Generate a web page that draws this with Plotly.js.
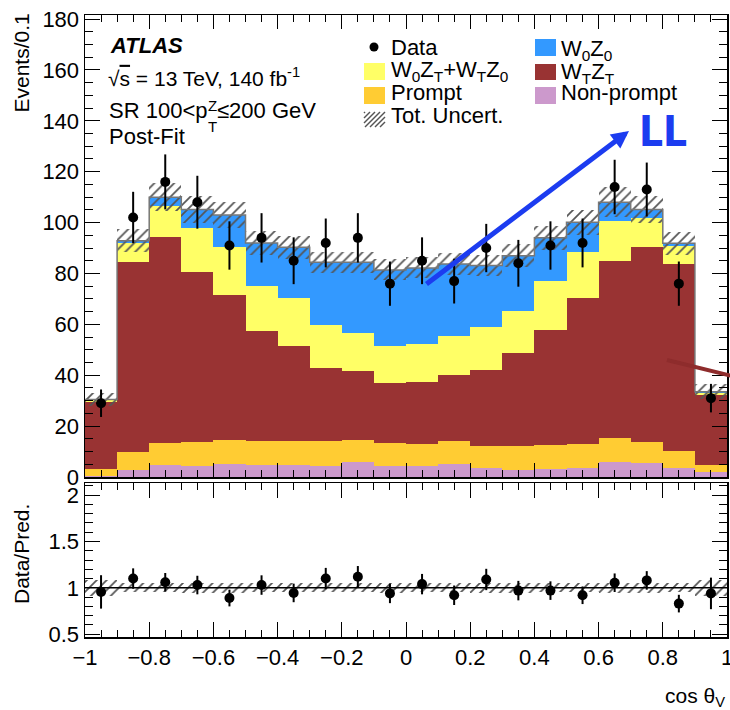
<!DOCTYPE html>
<html><head><meta charset="utf-8">
<script src="https://cdn.plot.ly/plotly-3.0.1.min.js"></script>
<style>html,body{margin:0;padding:0;background:#fff}</style>
</head><body><div id="chart" style="width:730px;height:710px"></div>
<script>
// ---- data ----
const binEdges   = [-1,-0.9,-0.8,-0.7,-0.6,-0.5,-0.4,-0.3,-0.2,-0.1,0,0.1,0.2,0.3,0.4,0.5,0.6,0.7,0.8,0.9,1];
const binCenters = [-0.95,-0.85,-0.75,-0.65,-0.55,-0.45,-0.35,-0.25,-0.15,-0.05,0.05,0.15,0.25,0.35,0.45,0.55,0.65,0.75,0.85,0.95];
const nonPrompt  = [0.4,2.9,4.9,4.5,5.2,4.6,4.9,4.2,5.9,4.2,4.2,5.2,3.7,2.9,3.3,3.7,5.9,5.4,3.5,2.0];
const prompt     = [2.9,6.9,8.4,9.3,9.4,9.4,9.4,10.0,8.8,9.1,8.7,8.8,8.5,9.2,9.3,9.4,9.6,8.5,6.9,2.9];
const wTzT       = [26.2,74.8,80.9,66.9,57.1,43.5,37.0,28.8,26.8,23.8,24.5,26.0,29.8,36.8,45.3,57.2,69.5,76.4,73.3,27.4];
const w0zTwTz0   = [0.6,7.4,12.5,17.1,18.9,17.7,18.9,16.7,15.3,14.2,14.8,15.5,16.8,16.5,19.3,18.0,15.8,11.5,7.0,0.7];
const w0z0       = [0.4,0.9,3.3,7.3,12.4,16.8,20.1,24.7,27.6,30.1,30.0,28.2,24.3,21.6,16.8,11.8,7.2,3.3,1.2,0.5];
const totUnc     = [2.7,4.6,5.5,5.3,5.2,4.6,4.5,4.2,4.2,4.1,4.1,4.2,4.2,4.4,4.7,5.0,5.8,5.3,4.6,3.0];
const dataVals   = [29,102,116,108,91,94,85,92,94,76,85,77,90,84,91,92,114,113,76,31];
const dataErr    = [5.4,10.1,10.8,10.4,9.5,9.7,9.2,9.6,9.7,8.7,9.2,8.8,9.5,9.2,9.5,9.6,10.7,10.6,8.7,5.6];
const ratioVals  = [0.956,1.10,1.06,1.03,0.89,1.03,0.945,1.10,1.12,0.94,1.04,0.92,1.09,0.97,0.97,0.92,1.055,1.08,0.83,0.94];
const ratioErr   = [0.18,0.11,0.10,0.10,0.09,0.105,0.10,0.115,0.115,0.105,0.11,0.105,0.115,0.105,0.10,0.095,0.10,0.10,0.095,0.17];

const seriesNames = ['Non-prompt','Prompt','W<sub>T</sub>Z<sub>T</sub>','W<sub>0</sub>Z<sub>T</sub>+W<sub>T</sub>Z<sub>0</sub>','W<sub>0</sub>Z<sub>0</sub>'];
const seriesColors = ['#cc99cc','#ffcc33','#993333','#ffff66','#3399ff'];
const seriesVals = [nonPrompt, prompt, wTzT, w0zTwTz0, w0z0];

// ---- geometry helpers (page px -> paper) ----
const L=85, R=727, T=15, B=637;
const px = x => (x-L)/(R-L);
const py = y => (B-y)/(B-T);

const FONT = 'Liberation Sans, Arial, sans-serif';
const n = binCenters.length;
const traces = [];
let cum = new Array(n).fill(0);
seriesVals.forEach((vals, k) => {
  traces.push({type:'bar', x:binCenters, y:vals, base:cum.slice(), width:0.1,
    marker:{color:seriesColors[k], line:{width:0}}, opacity:1, name:seriesNames[k],
    showlegend:false, xaxis:'x', yaxis:'y', hoverinfo:'skip'});
  cum = cum.map((c,i)=>c+vals[i]);
});
const total = cum;
const hatch = {shape:'/', fgcolor:'#555555', bgcolor:'rgba(0,0,0,0)', size:7, solidity:0.25, fillmode:'replace'};
// uncertainty band
traces.push({type:'bar', x:binCenters, y:totUnc.map(u=>2*u), base:total.map((t,i)=>t-totUnc[i]), width:0.1,
  marker:{color:'rgba(0,0,0,0)', line:{width:0}, pattern:hatch}, showlegend:false, xaxis:'x', yaxis:'y', hoverinfo:'skip'});
// total outline
traces.push({type:'scatter', mode:'lines', x:binEdges, y:total.concat([total[n-1]]), line:{shape:'hv', color:'#777', width:1.5},
  showlegend:false, xaxis:'x', yaxis:'y', hoverinfo:'skip'});
// data
traces.push({type:'scatter', mode:'markers', x:binCenters, y:dataVals, marker:{color:'black', size:10},
  error_y:{type:'data', array:dataErr, visible:true, color:'black', thickness:2, width:0},
  showlegend:false, xaxis:'x', yaxis:'y', hoverinfo:'skip'});
// ratio band
const rel = totUnc.map((u,i)=>u/total[i]);
traces.push({type:'bar', x:binCenters, y:rel.map(r=>2*r), base:rel.map(r=>1-r), width:0.1,
  marker:{color:'rgba(0,0,0,0)', line:{width:0}, pattern:hatch}, showlegend:false, xaxis:'x2', yaxis:'y2', hoverinfo:'skip'});
traces.push({type:'scatter', mode:'markers', x:binCenters, y:ratioVals, marker:{color:'black', size:10},
  error_y:{type:'data', array:ratioErr, visible:true, color:'black', thickness:2, width:0},
  showlegend:false, xaxis:'x2', yaxis:'y2', hoverinfo:'skip'});

// ---- legend (drawn manually, ROOT style) ----
const shapes = [];
const annotations = [];
const legCol1 = {boxX:364, textX:390};
const legCol2 = {boxX:535, textX:560};
const legendRows = [
  {col:legCol1, kind:'dot',   y0:39,  y1:55,  label:'Data', cy:47},
  {col:legCol1, kind:'box',   color:'#ffff66', y0:63, y1:80, label:'W<sub>0</sub>Z<sub>T</sub>+W<sub>T</sub>Z<sub>0</sub>', cy:71.1},
  {col:legCol1, kind:'box',   color:'#ffcc33', y0:87, y1:104, label:'Prompt', cy:93},
  {col:legCol1, kind:'hatch', y0:112, y1:127, label:'Tot. Uncert.', cy:115.5},
  {col:legCol2, kind:'box',   color:'#3399ff', y0:39, y1:56, label:'W<sub>0</sub>Z<sub>0</sub>', cy:50.1},
  {col:legCol2, kind:'box',   color:'#993333', y0:64, y1:80, label:'W<sub>T</sub>Z<sub>T</sub>', cy:72.6},
  {col:legCol2, kind:'box',   color:'#cc99cc', y0:87, y1:104, label:'Non-prompt', cy:93}
];
legendRows.forEach(r => {
  const bx0 = r.col.boxX, bx1 = r.col.boxX+21;
  if (r.kind==='box') {
    shapes.push({type:'rect', xref:'paper', yref:'paper', x0:px(bx0), x1:px(bx1), y0:py(r.y1), y1:py(r.y0),
      fillcolor:r.color, line:{width:0}, layer:'above'});
  } else if (r.kind==='dot') {
    const cx=374, cy=r.cy, rad=4.5;
    shapes.push({type:'circle', xref:'paper', yref:'paper', x0:px(cx-rad), x1:px(cx+rad), y0:py(cy+rad), y1:py(cy-rad),
      fillcolor:'black', line:{width:0}, layer:'above'});
  } else {
    for (let k=-14; k<=21; k+=5) {
      let xa=bx0+k, ya=r.y1, xb=bx0+k+15, yb=r.y0;
      if (xa<bx0){ ya -= (bx0-xa); xa=bx0; }
      if (xb>bx1){ yb += (xb-bx1); xb=bx1; }
      if (xb-xa<1) continue;
      shapes.push({type:'line', xref:'paper', yref:'paper', x0:px(xa), y0:py(ya), x1:px(xb), y1:py(yb),
        line:{color:'#555555', width:1.4}, layer:'above'});
    }
  }
  annotations.push({xref:'paper', yref:'paper', x:px(r.col.textX), y:py(r.cy), xanchor:'left', yanchor:'middle',
    text:r.label, showarrow:false, borderpad:0, font:{family:FONT, size:22, color:'black'}});
});

// ratio reference line at 1
shapes.push({type:'line', xref:'x2', yref:'y2', x0:-1, x1:1, y0:1, y1:1, line:{color:'black', width:1.5}, layer:'above'});
// dark red arrow fragment entering from the right
shapes.push({type:'line', xref:'paper', yref:'paper', x0:px(667), y0:py(360), x1:px(740), y1:py(378),
  line:{color:'#8e2c2c', width:4}, layer:'above'});

// ---- texts ----
const txt = (x,y,text,size,opts={}) => Object.assign({xref:'paper', yref:'paper', x:px(x), y:py(y), xanchor:'left', yanchor:'middle',
  text:text, showarrow:false, borderpad:0, font:{family:FONT, size:size, color:'black'}}, opts);
annotations.push(txt(109,46,'<b><i>ATLAS</i></b>',22));
annotations.push(txt(107,76.7,'√<span style="text-decoration:overline">s</span> = 13 TeV, 140 fb<sup>-1</sup>',21));
annotations.push(txt(108,110,'SR 100&lt;p',22));
annotations.push(txt(206.5,105,'Z',15));
annotations.push(txt(206.5,127,'T',15));
annotations.push(txt(216,110,'≤200 GeV',22));
annotations.push(txt(108,136,'Post-Fit',22));
// axis titles
annotations.push({xref:'paper', yref:'paper', x:0, xshift:-64, y:py(13), xanchor:'center', yanchor:'top', textangle:-90,
  text:'Events/0.1', showarrow:false, borderpad:0, font:{family:FONT, size:21, color:'black'}});
annotations.push({xref:'paper', yref:'paper', x:0, xshift:-64, y:py(554), xanchor:'center', yanchor:'middle', textangle:-90,
  text:'Data/Pred.', showarrow:false, borderpad:0, font:{family:FONT, size:21, color:'black'}});
annotations.push(txt(726,697,'cos θ<sub>V</sub>',21,{xanchor:'right'}));
// LL label with arrow
annotations.push({xref:'paper', yref:'paper', x:px(662.5), y:py(131), xanchor:'center', yanchor:'middle',
  text:'<b>LL</b>', showarrow:false, font:{family:'Liberation Sans Narrow, DejaVu Sans Condensed, Liberation Sans, sans-serif', size:42, color:'#1c3cf0'}});
annotations.push({xref:'x', yref:'y', x:0.6947, y:136, axref:'x', ayref:'y', ax:0.0592, ay:75.4, text:'',
  showarrow:true, arrowhead:2, arrowsize:0.7, arrowwidth:5, arrowcolor:'#1c3cf0', standoff:0, startstandoff:0});

const axisCommon = {showgrid:false, zeroline:false, showline:true, linecolor:'black', linewidth:1.5, mirror:'allticks',
  ticks:'inside', tickcolor:'black', tickwidth:1, tickfont:{family:FONT, size:22, color:'black'}};

const layout = {
  width:730, height:710, paper_bgcolor:'white', plot_bgcolor:'white',
  margin:{l:L, r:730-R, t:T, b:710-B, pad:0},
  barmode:'overlay', bargap:0, showlegend:false, hovermode:false,
  font:{family:FONT, size:22, color:'black'},
  xaxis: Object.assign({}, axisCommon, {anchor:'y', domain:[0,1], range:[-1,1], tick0:-1, dtick:0.2, ticklen:14,
    showticklabels:false, minor:{ticks:'inside', ticklen:7, tick0:-1, dtick:0.05, tickcolor:'black', tickwidth:1}}),
  yaxis: Object.assign({}, axisCommon, {anchor:'x', domain:[py(477),1], range:[0,181.6], tick0:0, dtick:20, ticklen:15,
    minor:{ticks:'inside', ticklen:8, dtick:5, tickcolor:'black', tickwidth:1}}),
  xaxis2: Object.assign({}, axisCommon, {anchor:'y2', domain:[0,1], range:[-1,1], tick0:-1, dtick:0.2, ticklen:15,
    ticklabeloverflow:'allow',
    minor:{ticks:'inside', ticklen:7, tick0:-1, dtick:0.05, tickcolor:'black', tickwidth:1}}),
  yaxis2: Object.assign({}, axisCommon, {anchor:'x2', domain:[0,py(483)], range:[0.47,2.13], tick0:0.5, dtick:0.5, ticklen:15,
    minor:{ticks:'inside', ticklen:8, tick0:0.5, dtick:0.1, tickcolor:'black', tickwidth:1}}),
  shapes:shapes, annotations:annotations
};

Plotly.newPlot('chart', traces, layout, {staticPlot:true, displayModeBar:false});
</script></body></html>
